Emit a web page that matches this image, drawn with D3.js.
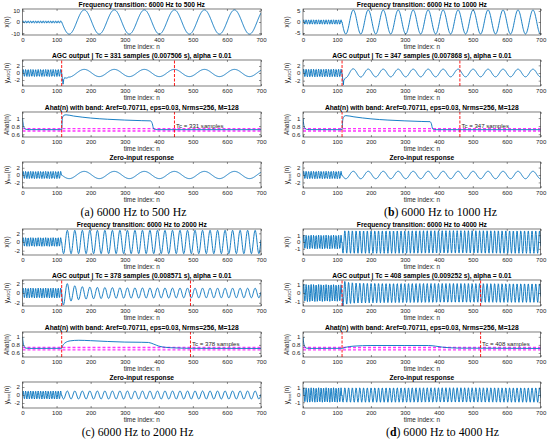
<!DOCTYPE html>
<html>
<head>
<meta charset="utf-8">
<script src="https://cdn.jsdelivr.net/npm/d3@7"></script>
<style>
  body { margin: 0; background: #fff; }
  svg { display: block; }
</style>
</head>
<body>
<div id="container"></div>
<script>
// --- values ---
const fs = 44100;            // Tc samples / Tc seconds -> 44.1 kHz
const nSwitch = 115;         // sample where the frequency changes
const nMax = 700;
const fBefore = 6000;
const letters = ["a", "b", "c", "d"];
const letterBold = [false, true, false, true];
const fAfter = [500, 1000, 2000, 4000];
const tcSamples = [331, 347, 378, 408];
const tcSeconds = ["0.007506", "0.007868", "0.008571", "0.009252"];
const ampBefore = [1, 1, 1, 1];
const ampAfter = [10.8, 5.45, 2.7, 1.65];
const zirAmp = [1, 1, 1, 1];
const aref = 0.70711, eps = 0.03;

// AGC gain envelope [n, gain] (output amplitude / input amplitude)
const agcGain = [
  [[0, 1], [115, 1], [119, 1.05], [121, 0.4], [124, 0.2], [135, 0.11], [160, 0.095], [700, 0.095]],
  [[0, 1], [115, 1], [119, 1.05], [120, 0.55], [123, 0.3], [126, 0.23], [148, 0.2], [200, 0.185], [700, 0.183]],
  [[0, 1], [118, 1], [121, 0.88], [126, 0.78], [132, 0.7], [143, 0.6], [154, 0.54], [180, 0.46], [220, 0.42], [300, 0.39], [450, 0.37], [700, 0.36]],
  [[0, 1], [117, 0.95], [119, 0.88], [123, 0.82], [135, 0.74], [160, 0.7], [250, 0.67], [700, 0.65]]
];

// Ahat(n) estimate [n, value]
const ahat = [
  [[0, 1.0], [2, 0.85], [5, 0.76], [10, 0.72], [20, 0.713], [115, 0.712], [117, 1.0], [122, 1.07], [128, 1.08], [150, 1.05], [200, 1.0],
   [250, 0.97], [300, 0.95], [350, 0.935], [376, 0.93], [381, 0.86], [385, 0.73], [395, 0.712], [700, 0.712]],
  [[0, 1.0], [2, 0.85], [5, 0.76], [10, 0.72], [20, 0.713], [115, 0.712], [117, 0.95], [121, 1.04], [126, 1.06], [150, 1.03], [200, 0.98],
   [250, 0.95], [300, 0.93], [350, 0.915], [374, 0.91], [378, 0.86], [382, 0.73], [392, 0.712], [700, 0.712]],
  [[0, 1.0], [2, 0.85], [5, 0.76], [10, 0.72], [20, 0.713], [115, 0.715], [118, 0.78], [125, 0.85], [140, 0.9], [165, 0.915], [200, 0.905],
   [250, 0.885], [300, 0.87], [350, 0.865], [370, 0.86], [385, 0.82], [400, 0.77], [420, 0.74], [450, 0.725], [500, 0.715], [700, 0.712]],
  [[0, 1.0], [2, 0.85], [5, 0.76], [10, 0.72], [20, 0.713], [115, 0.715], [125, 0.74], [150, 0.77], [200, 0.785], [300, 0.785], [370, 0.785],
   [390, 0.77], [410, 0.745], [430, 0.73], [460, 0.72], [700, 0.712]]
];

const xTicks = [0, 100, 200, 300, 400, 500, 600, 700];
const inTicks = [[-10, 0, 10], [-5, 0, 5], [-2, 0, 2], [-1, 0, 1]];
const agcTicks = [[-2, 0, 2], [-2, 0, 2], [-2, 0, 2], [-1, 0, 1]];
const ahatTicks = [0.6, 0.8, 1];

// axis limits
const inLim = [11.6, 5.9, 3.0, 1.9];
const agcLim = [3.7, 3.4, 2.65, 1.5];
const ahatLim = [[0.53, 1.15], [0.53, 1.15], [0.5, 1.12], [0.5, 1.12]];
const zirLim = [3.6, 3.5, 3.25, 1.8];

// --- layout ---
const W = 550, H = 441;
const BLUE = "#0072BD", TXT = "#262626";
const panelX = [[22.5, 261], [303, 540.7], [22.5, 261], [303, 540.7]];
const panelTop = [0, 0, 220, 220];
const captionX = [133.5, 440.5, 137.5, 442.5];
const rowBox = [[9, 35], [60, 86], [112, 137], [162, 188]];

const svg = d3.select("#container").append("svg")
  .attr("width", W).attr("height", H)
  .style("font-family", "'Liberation Sans', Arial, sans-serif");

const nRange = d3.range(0, nMax + 1);

function tone(n, p, amp0, amp1) {
  if (n < nSwitch) return amp0 * Math.sin(2 * Math.PI * fBefore * n / fs);
  return -amp1 * Math.sin(2 * Math.PI * fAfter[p] * (n - nSwitch) / fs);
}

let clipId = 0;

function subplot(p, row, yDomain, yTicks, series, title, ylab, extra) {
  const [x0, x1] = panelX[p];
  const top = panelTop[p] + rowBox[row][0], bot = panelTop[p] + rowBox[row][1];
  const x = d3.scaleLinear().domain([0, nMax]).range([x0, x1]);
  const y = d3.scaleLinear().domain(yDomain).range([bot, top]);
  const g = svg.append("g");

  const id = "clip" + (clipId++);
  g.append("clipPath").attr("id", id).append("rect")
    .attr("x", x0).attr("y", top).attr("width", x1 - x0).attr("height", bot - top);

  const plot = g.append("g").attr("clip-path", `url(#${id})`);
  if (extra && extra.before) extra.before(plot, x, y);
  series.forEach(s => {
    plot.append("path")
      .datum(s.points)
      .attr("fill", "none")
      .attr("stroke", s.color || BLUE)
      .attr("stroke-width", s.width || 0.9)
      .attr("stroke-linejoin", "round")
      .attr("d", d3.line().x(d => x(d[0])).y(d => y(d[1])).curve(s.curve || d3.curveLinear));
  });
  if (extra && extra.after) extra.after(plot, x, y);

  // axes with inward ticks
  const ax = g.append("g").attr("transform", `translate(0,${bot})`)
    .call(d3.axisBottom(x).tickValues(xTicks).tickSize(-2).tickSizeOuter(0).tickPadding(2.5).tickFormat(d => String(d)));
  const axT = g.append("g").attr("transform", `translate(0,${top})`)
    .call(d3.axisTop(x).tickValues(xTicks).tickSize(-2).tickSizeOuter(0).tickFormat(""));
  const ay = g.append("g").attr("transform", `translate(${x0},0)`)
    .call(d3.axisLeft(y).tickValues(yTicks).tickSize(-2).tickSizeOuter(0).tickPadding(2.5).tickFormat(d => String(d)));
  const ayR = g.append("g").attr("transform", `translate(${x1},0)`)
    .call(d3.axisRight(y).tickValues(yTicks).tickSize(-2).tickSizeOuter(0).tickFormat(""));
  [ax, axT, ay, ayR].forEach(a => {
    a.select(".domain").remove();
    a.selectAll("line").attr("stroke", TXT).attr("stroke-width", 0.5);
    a.selectAll("text").attr("fill", TXT).style("font-size", "6.1px").style("font-family", "'Liberation Sans', Arial, sans-serif");
  });
  g.append("rect").attr("x", x0).attr("y", top).attr("width", x1 - x0).attr("height", bot - top)
    .attr("fill", "none").attr("stroke", TXT).attr("stroke-width", 0.6);

  g.append("text").attr("x", (x0 + x1) / 2).attr("y", top - 1.6)
    .attr("text-anchor", "middle").attr("fill", "#000")
    .style("font-size", "6.7px").style("font-weight", "bold").text(title);

  g.append("text").attr("x", (x0 + x1) / 2).attr("y", bot + 13.5)
    .attr("text-anchor", "middle").attr("fill", TXT)
    .style("font-size", "6.4px").text("time index: n");

  const yl = g.append("text")
    .attr("transform", `translate(${x0 - 14},${(top + bot) / 2}) rotate(-90)`)
    .attr("text-anchor", "middle").attr("fill", TXT).style("font-size", "6.4px");
  yl.append("tspan").text(ylab[0]);
  if (ylab[1]) {
    yl.append("tspan").attr("dy", 1.6).style("font-size", "4.3px").text(ylab[1]);
    yl.append("tspan").attr("dy", -1.6).text(ylab[2]);
  }
}

function redLines(plot, x, y, p) {
  [nSwitch, nSwitch + tcSamples[p]].forEach(n => {
    plot.append("line")
      .attr("x1", x(n)).attr("x2", x(n))
      .attr("y1", y.range()[0]).attr("y2", y.range()[1])
      .attr("stroke", "#FF0000").attr("stroke-width", 0.9)
      .attr("stroke-dasharray", "3,1.5");
  });
}

for (let p = 0; p < 4; p++) {
  const gainAt = d3.scaleLinear()
    .domain(agcGain[p].map(d => d[0]))
    .range(agcGain[p].map(d => d[1]))
    .clamp(true);

  const xIn = nRange.map(n => [n, tone(n, p, ampBefore[p], ampAfter[p])]);
  const yAgc = xIn.map(([n, v]) => [n, gainAt(n) * v]);
  const yZir = nRange.map(n => [n, tone(n, p, zirAmp[p], zirAmp[p])]);

  subplot(p, 0, [-inLim[p], inLim[p]], inTicks[p], [{points: xIn}],
    `Frequency transition: ${fBefore} Hz to ${fAfter[p]} Hz`, ["x(n)"]);

  subplot(p, 1, [-agcLim[p], agcLim[p]], agcTicks[p], [{points: yAgc}],
    `AGC output | Tc = ${tcSamples[p]} samples (${tcSeconds[p]} s), alpha = 0.01`,
    ["y", "AGC", "(n)"],
    {after: (plot, x, y) => redLines(plot, x, y, p)});

  subplot(p, 2, ahatLim[p], ahatTicks, [],
    "Ahat(n) with band: Aref=0.70711, eps=0.03, Nrms=256, M=128", ["Ahat(n)"],
    {
      before: (plot, x, y) => {
        [aref - eps, aref + eps].forEach(v => {
          plot.append("line")
            .attr("x1", x(0)).attr("x2", x(nMax))
            .attr("y1", y(v)).attr("y2", y(v))
            .attr("stroke", "#FF33FF").attr("stroke-width", 1.4)
            .attr("stroke-dasharray", "3,2");
        });
        plot.append("path").datum(ahat[p])
          .attr("fill", "none").attr("stroke", BLUE).attr("stroke-width", 0.9)
          .attr("d", d3.line().x(d => x(d[0])).y(d => y(d[1])).curve(d3.curveMonotoneX));
      },
      after: (plot, x, y) => {
        redLines(plot, x, y, p);
        plot.append("text")
          .attr("x", x(nSwitch + tcSamples[p]) + 1.5).attr("y", y(0.765))
          .attr("fill", TXT).style("font-size", "6.1px")
          .text(`Tc = ${tcSamples[p]} samples`);
      }
    });

  subplot(p, 3, [-zirLim[p], zirLim[p]], agcTicks[p], [{points: yZir}],
    "Zero-input response", ["y", "free", "(n)"]);

  // caption
  const cap = svg.append("text").attr("x", captionX[p]).attr("y", panelTop[p] + 216)
    .attr("text-anchor", "middle").attr("fill", "#000")
    .style("font-family", "'Liberation Serif', 'Times New Roman', serif").style("font-size", "11.8px");
  cap.append("tspan").text("(");
  cap.append("tspan").style("font-weight", letterBold[p] ? "bold" : "normal").text(letters[p]);
  cap.append("tspan").text(`) ${fBefore} Hz to ${fAfter[p]} Hz`);
}
</script>
</body>
</html>
